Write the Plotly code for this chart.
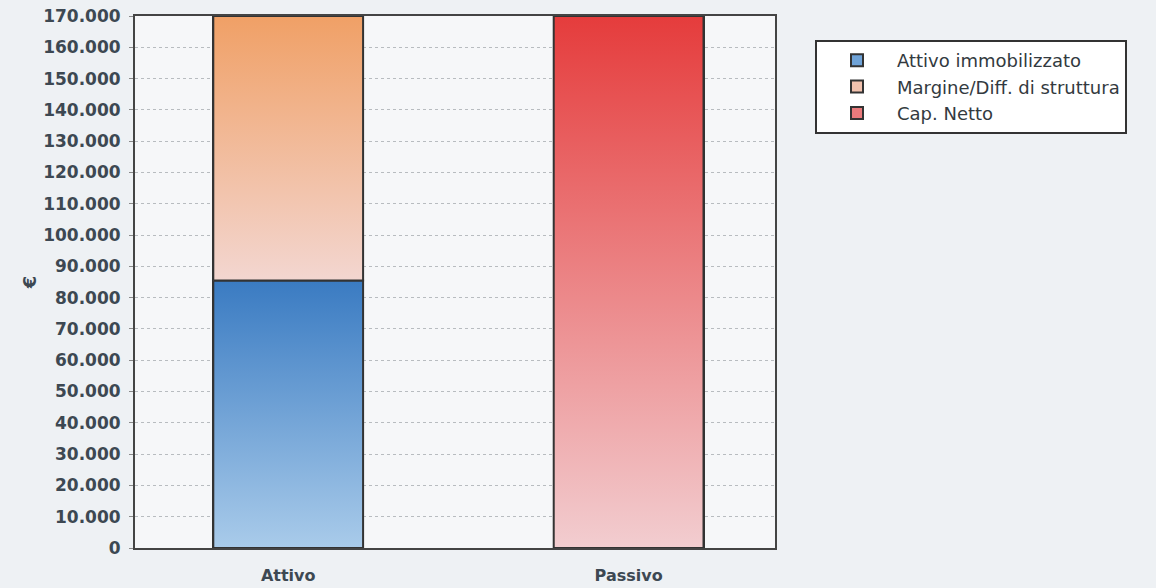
import plotly.graph_objects as go

categories = ["Attivo", "Passivo"]
attivo_immobilizzato = [85500, 0]
margine_struttura = [84500, 0]
cap_netto = [0, 170000]

# name, values, solid colour (legend), vertical gradient (bottom -> top)
series = [
    ("Attivo immobilizzato", attivo_immobilizzato, "#6fa3d8", [[0, "#a9cbea"], [1, "#3a7bc2"]]),
    ("Margine/Diff. di struttura", margine_struttura, "#f2c2ae", [[0, "#f3d6d0"], [1, "#f0a066"]]),
    ("Cap. Netto", cap_netto, "#ea7a7c", [[0, "#f2cdd0"], [1, "#e53c3c"]]),
]

bar_w = 0.44
xpos = list(range(len(categories)))
fig = go.Figure()

# plain stacked bars (legend + hover)
for name, vals, col, cs in series:
    fig.add_trace(go.Bar(
        x=xpos, y=vals, name=name, width=bar_w, legendgroup=name,
        marker=dict(color=col, line=dict(color="#333333", width=2)),
    ))

# gradient overlays built from the same values
base = [0] * len(categories)
for name, vals, col, cs in series:
    xs, ys = [], []
    for i, v in enumerate(vals):
        if v <= 0:
            continue
        x0, x1 = i - bar_w / 2, i + bar_w / 2
        y0, y1 = base[i], base[i] + v
        xs += [x0, x1, x1, x0, x0, None]
        ys += [y0, y0, y1, y1, y0, None]
        base[i] = y1
    fig.add_trace(go.Scatter(
        x=xs, y=ys, name=name, mode="lines", fill="toself",
        fillgradient=dict(type="vertical", colorscale=cs),
        line=dict(color="#333333", width=2),
        showlegend=False, legendgroup=name, hoverinfo="skip",
    ))

fig.update_layout(
    width=1156, height=588,
    margin=dict(l=135, r=381, t=16, b=40),
    paper_bgcolor="#eef1f4",
    plot_bgcolor="#f6f7f9",
    separators=",.",
    barmode="stack",
    font=dict(family="DejaVu Sans", size=16, color="#3d4852"),
    showlegend=True,
    legend=dict(
        x=1.0625, y=0.955, xanchor="left", yanchor="top",
        bgcolor="#ffffff", bordercolor="#333333", borderwidth=2,
        font=dict(size=18, color="#333a40"), traceorder="normal",
        tracegroupgap=0, itemwidth=70,
    ),
    xaxis=dict(
        range=[-0.45, 1.43], tickvals=xpos, ticktext=categories,
        showgrid=False, zeroline=False, showline=True, linecolor="#444", linewidth=2,
        mirror=True, automargin=False, ticklabelstandoff=12,
        tickfont=dict(size=16, color="#3d4852", weight="bold"),
    ),
    yaxis=dict(
        range=[0, 170000], dtick=10000, tickformat=",d",
        showgrid=True, gridcolor="#b8bcc0", griddash="dot", gridwidth=1,
        zeroline=False, showline=True, linecolor="#444", linewidth=2, mirror=True,
        ticks="outside", ticklen=4, tickcolor="#888", automargin=False,
        ticklabelstandoff=5,
        tickfont=dict(size=17, color="#3d4852", weight="bold"),
        title=dict(text="€", font=dict(size=18, color="#3d4852", weight="bold"), standoff=2),
    ),
)

fig.write_html("out.html", config={"displayModeBar": False},
               post_script="document.body.style.margin='0';")
